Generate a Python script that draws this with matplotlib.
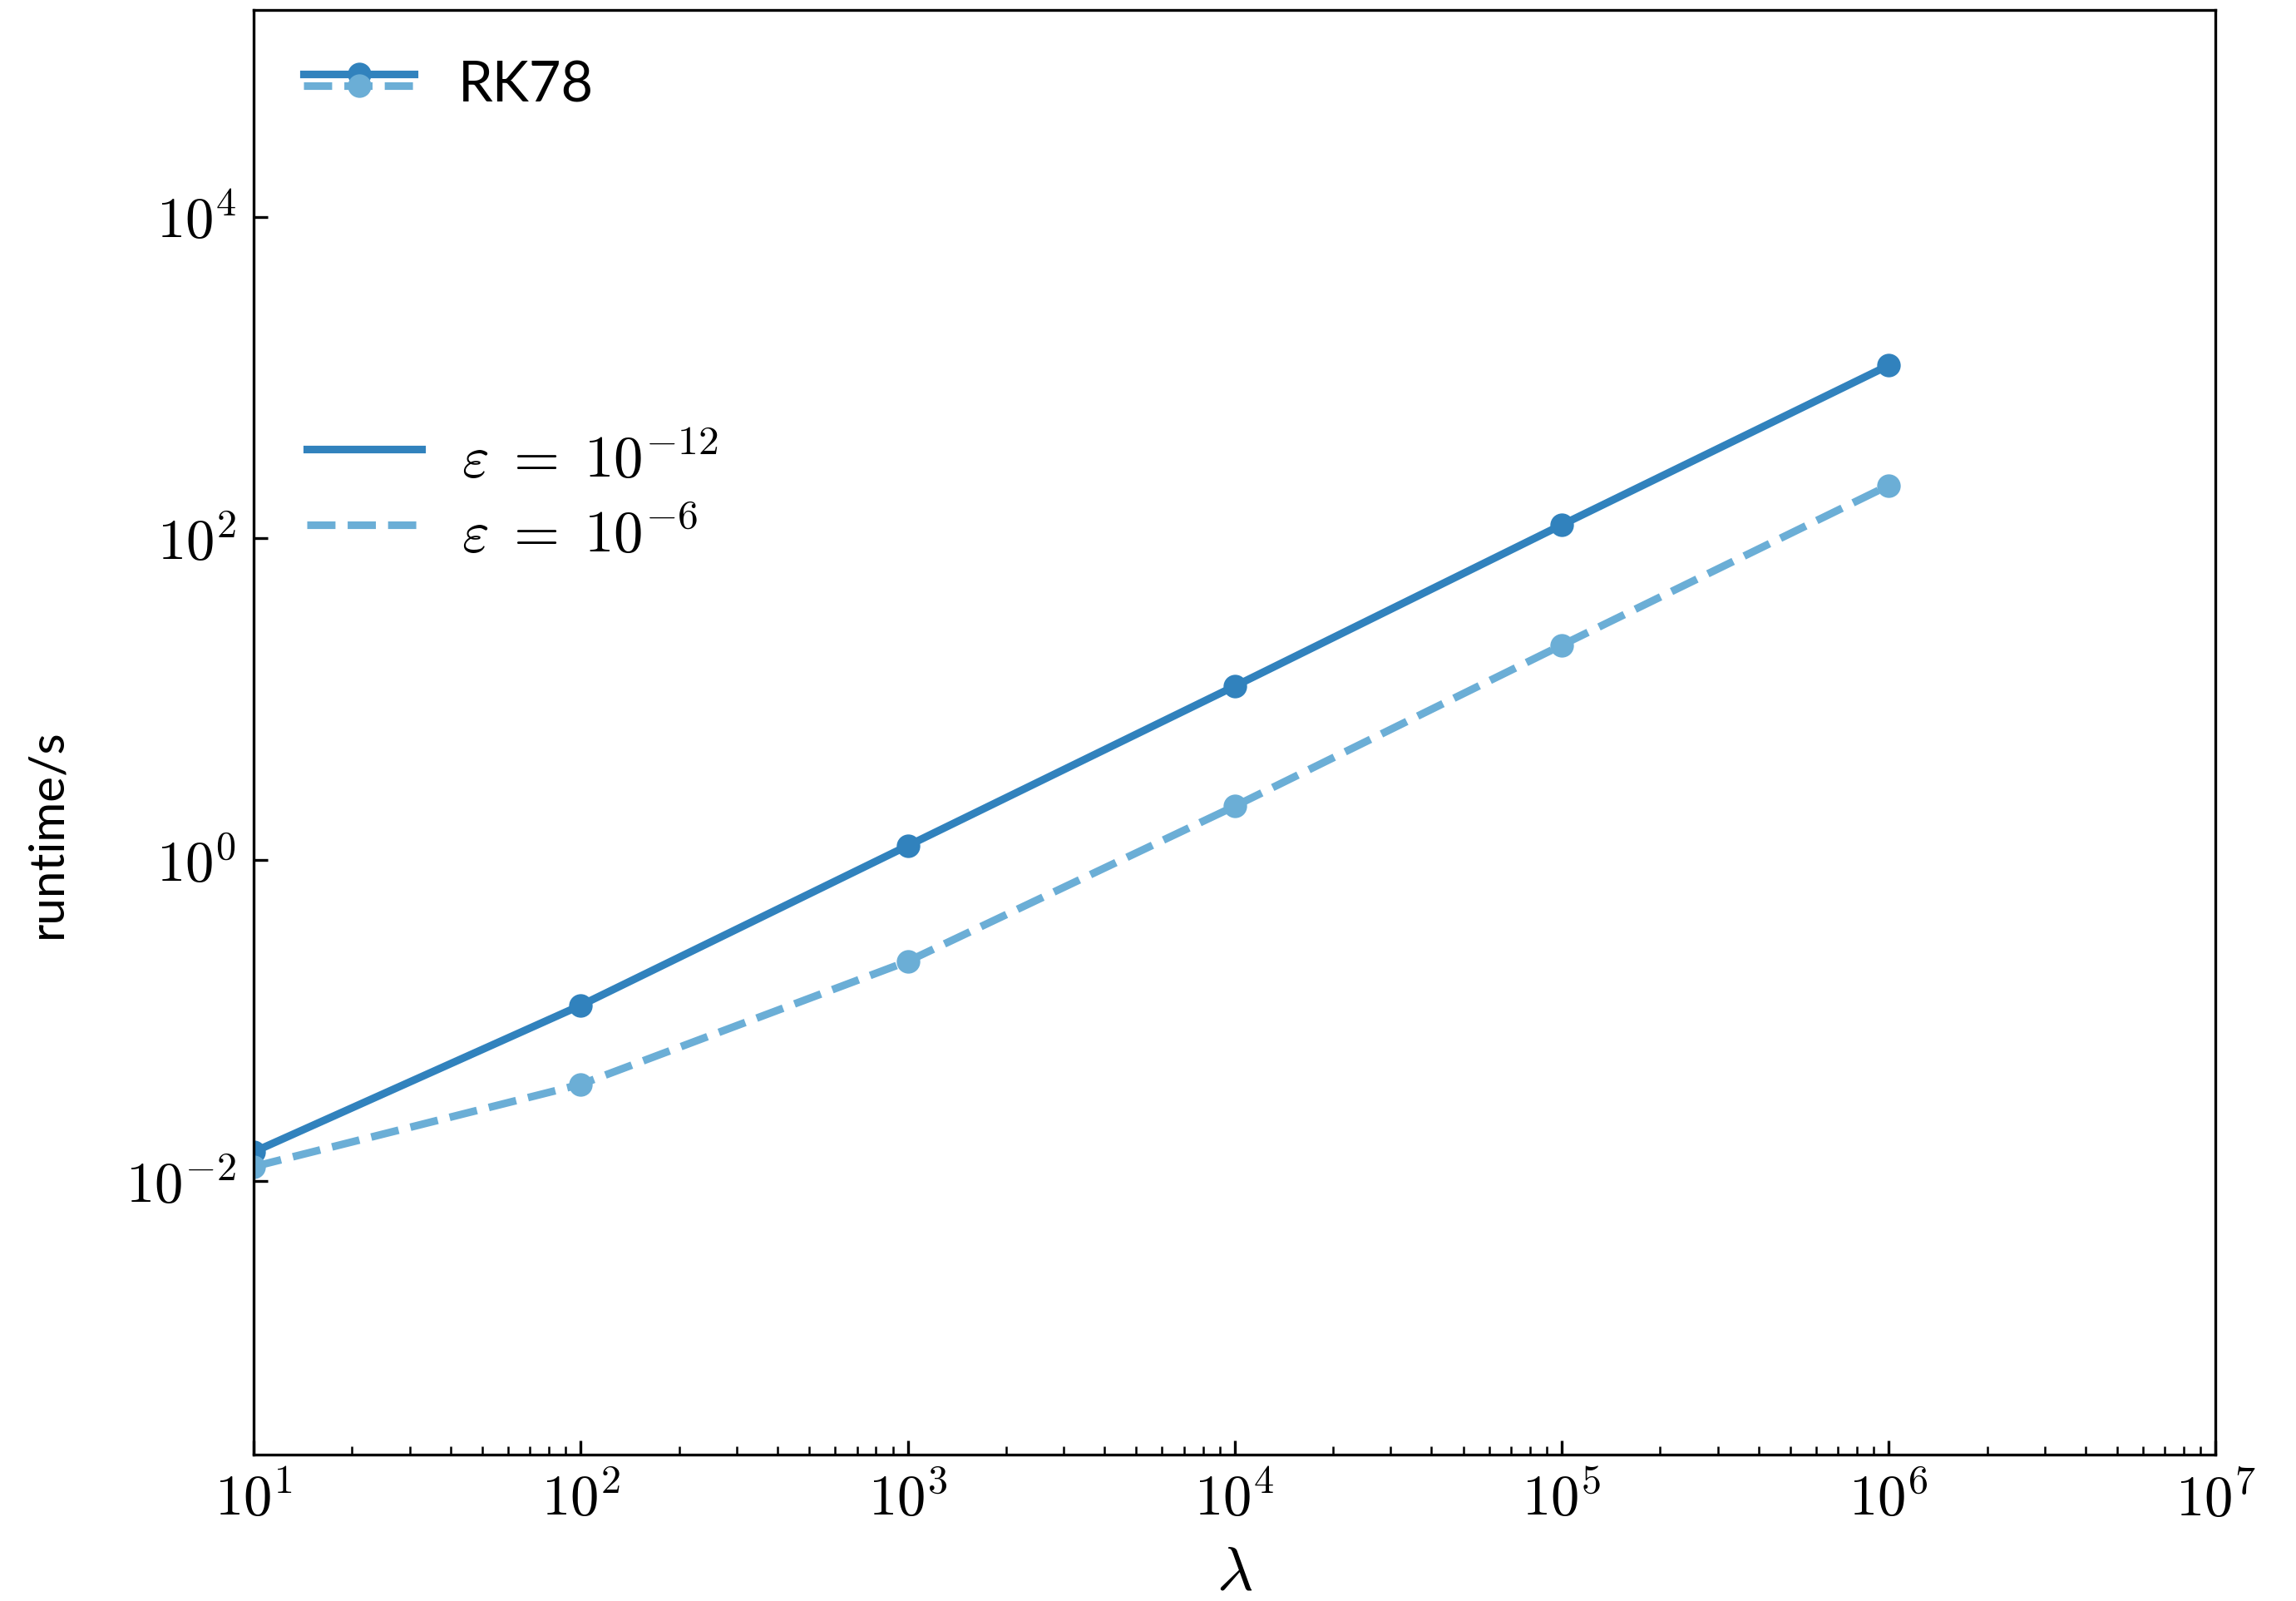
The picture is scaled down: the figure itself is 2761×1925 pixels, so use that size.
import numpy as np
import matplotlib
matplotlib.use("Agg")
import matplotlib.pyplot as plt
from matplotlib.lines import Line2D
from matplotlib.legend_handler import HandlerLine2D
from matplotlib.ticker import LogLocator, NullLocator, FuncFormatter

plt.rcParams['mathtext.fontset'] = 'cm'
plt.rcParams['font.family'] = ['Lato', 'DejaVu Sans']

lam = [1e1, 1e2, 1e3, 1e4, 1e5, 1e6]
t_tight = [0.0152, 0.124, 1.22, 12.0, 121.0, 1189.0]
t_loose = [0.0123, 0.040, 0.233, 2.15, 21.6, 213.0]

c_dark = '#3182bd'
c_light = '#6baed6'
LW = 2.2
MS = 5.8


class HandlerStack(HandlerLine2D):
    # draws a pair of lines on top of each other, slightly shifted
    def create_artists(self, legend, orig, xdescent, ydescent, width, height, fontsize, trans):
        arts = []
        for h, dy in zip(orig, (5.0, -1.8)):
            arts += HandlerLine2D.create_artists(self, legend, h, xdescent, ydescent - dy,
                                                 width, height, fontsize, trans)
        return arts


class HandlerUp(HandlerLine2D):
    # line sits a bit above the label centre
    def create_artists(self, legend, orig, xdescent, ydescent, width, height, fontsize, trans):
        return HandlerLine2D.create_artists(self, legend, orig, xdescent, ydescent - 4.2,
                                            width, height, fontsize, trans)


fig = plt.figure(figsize=(2761/300, 1925/300), dpi=300)
ax = fig.add_axes([0.1105, 0.0916, 0.8545, 0.902])

l1, = ax.plot(lam, t_tight, '-o', color=c_dark, lw=LW, ms=MS)
l2, = ax.plot(lam, t_loose, '--o', color=c_light, lw=LW, ms=MS)

ax.set_xscale('log')
ax.set_yscale('log')
ax.set_xlim(1e1, 1e7)
ax.set_ylim(10**-3.70, 10**5.285)
ax.yaxis.set_major_locator(LogLocator(base=100))
ax.yaxis.set_minor_locator(NullLocator())
fmt = FuncFormatter(lambda v, p: r'$10^{%d}$' % round(np.log10(v)))
ax.xaxis.set_major_formatter(fmt)
ax.yaxis.set_major_formatter(fmt)
ax.tick_params(which='both', direction='in', labelsize=16.5)
ax.tick_params(which='major', length=4, width=0.8, pad=5)
ax.tick_params(which='minor', length=2.5, width=0.6)
for s in ax.spines.values():
    s.set_linewidth(0.8)

ax.set_xlabel(r'$\lambda$', fontsize=18, labelpad=5)
ax.set_ylabel('runtime/s', fontsize=14,
              family=['Liberation Sans Narrow', 'Lato', 'DejaVu Sans'])
ax.yaxis.set_label_coords(-0.094, 0.43)

leg1 = ax.legend([(l1, l2)], ['RK78'], handler_map={tuple: HandlerStack()},
                 loc='upper left', frameon=False, fontsize=16,
                 handlelength=2.0, handletextpad=0.78)
ax.add_artist(leg1)

h1 = Line2D([], [], color=c_dark, lw=LW, ls='-')
h2 = Line2D([], [], color=c_light, lw=LW, ls='--')
ax.legend([h1, h2], [r'$\varepsilon\;=\;10^{-12}$', r'$\varepsilon\;=\;10^{-6}$'],
          handler_map={Line2D: HandlerUp()},
          loc='upper left', bbox_to_anchor=(0.0, 0.745), frameon=False,
          fontsize=17, handlelength=1.95, handletextpad=0.68, labelspacing=0.35)

fig.savefig('out.png', dpi=300)
